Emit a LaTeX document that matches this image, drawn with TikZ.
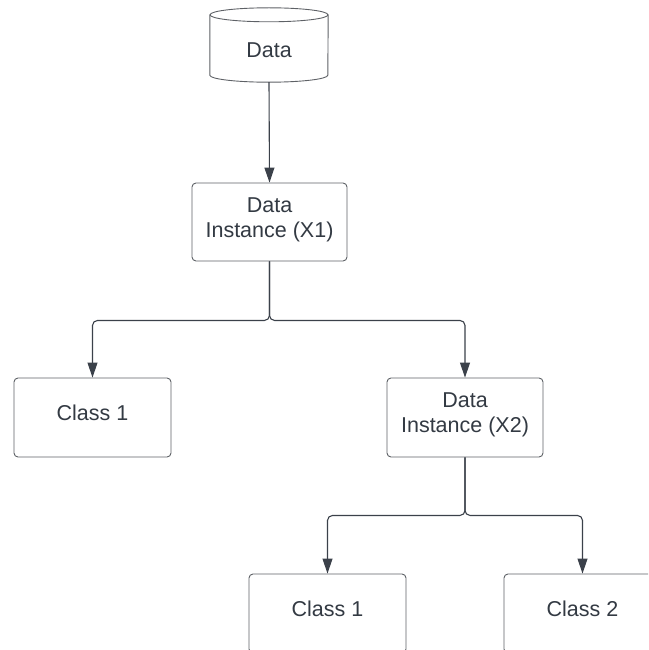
\documentclass[tikz,border=0pt]{standalone}
\usepackage{fontspec}
\setmainfont{Liberation Sans}
\usetikzlibrary{arrows.meta}
\definecolor{inkline}{HTML}{3B414A}
\definecolor{boxline}{HTML}{5E6166}
\definecolor{txt}{HTML}{333A43}
\tikzset{
  box/.style={draw=boxline, line width=0.9pt, rounded corners=4pt, fill=white,
    minimum width=156pt, minimum height=79pt, inner sep=0pt, align=center,
    text=txt, font=\fontsize{21.5}{25}\selectfont, text depth=9pt},
  cyl/.style={draw=boxline, line width=0.9pt},
  conn/.style={draw=inkline, line width=1.1pt, rounded corners=5pt,
    -{Triangle[length=15pt,width=10pt]}},
}
\begin{document}
\begin{tikzpicture}[x=1pt,y=-1pt]
  \useasboundingbox (0,0) rectangle (648,650);
  \clip (0,0) rectangle (648,650);

  % database cylinder
  \node[minimum width=118pt, minimum height=74pt, inner sep=0pt, text=txt,
        font=\fontsize{21.5}{25}\selectfont, text height=26pt] (data) at (269,45) {Data};
  \draw[cyl] ([yshift=-7pt]data.north west) -- ([yshift=7pt]data.south west)
    arc[start angle=180, end angle=360, x radius=59pt, y radius=7pt]
    -- ([yshift=-7pt]data.north east);
  \draw[cyl] ([yshift=-7pt]data.north) ellipse[x radius=59pt, y radius=7pt];

  % decision nodes
  \node[box, minimum width=155pt, minimum height=78pt] (x1) at (269.5,222) {Data\\Instance (X1)};
  \node[box, minimum width=157pt] (c1) at (92.5,417.5) {Class 1};
  \node[box] (x2) at (465,417.5) {Data\\Instance (X2)};
  \node[box, minimum width=157pt] (b1) at (327.5,613.5) {Class 1};
  \node[box, minimum width=157pt] (b2) at (582.5,613.5) {Class 2};

  % connectors
  \draw[conn] (data.south) -- (x1.north);
  \draw[conn] (x1.south) -- ++(0,59) -| (c1.north);
  \draw[conn] (x1.south) -- ++(0,59) -| (x2.north);
  \draw[conn] (x2.south) -- ++(0,58) -| (b1.north);
  \draw[conn] (x2.south) -- ++(0,58) -| (b2.north);
\end{tikzpicture}
\end{document}
